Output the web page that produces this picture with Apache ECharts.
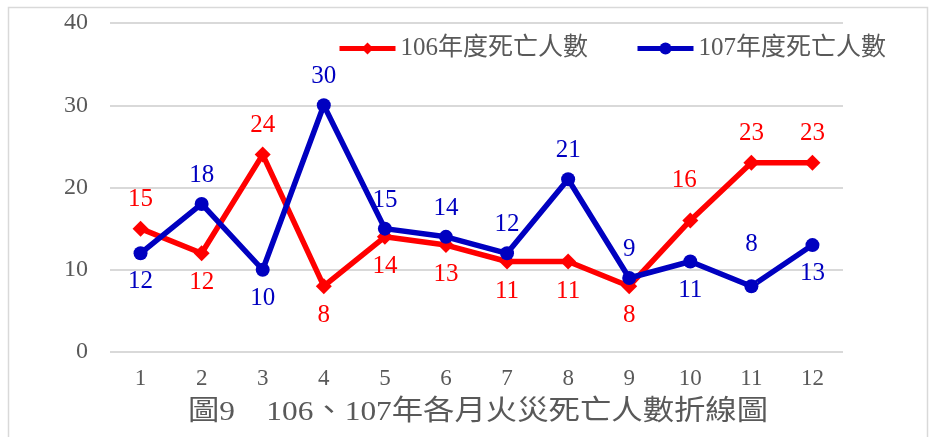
<!DOCTYPE html>
<html>
<head>
<meta charset="utf-8">
<script src="https://cdn.jsdelivr.net/npm/echarts@6/dist/echarts.min.js"></script>
<style>
  html, body { margin: 0; padding: 0; background: #fff; }
  #chart { width: 935px; height: 437px; }
</style>
</head>
<body>
<div id="chart"></div>
<script>
const months = ['1', '2', '3', '4', '5', '6', '7', '8', '9', '10', '11', '12']
const deaths106 = [15, 12, 24, 8, 14, 13, 11, 11, 8, 16, 23, 23]
const deaths107 = [12, 18, 10, 30, 15, 14, 12, 21, 9, 11, 8, 13]
// where each value label sits
const pos106 = ['top', 'bottom', 'top', 'bottom', 'bottom', 'bottom', 'bottom', 'bottom', 'bottom', 'top', 'top', 'top']
const pos107 = ['bottom', 'top', 'bottom', 'top', 'top', 'top', 'top', 'top', 'top', 'bottom', 'top', 'bottom']

const font = '"Liberation Serif", "Noto Sans CJK TC", serif'
const textGray = '#595959'
const leaderGray = '#a6a6a6'

function withLabels(values, positions) {
  return values.map((v, i) => ({ value: v, label: { position: positions[i] } }))
}

const data106 = withLabels(deaths106, pos106)
const data107 = withLabels(deaths107, pos107)
// the two labels that were dragged off with a leader line
data106[9].label.offset = [-6, -10]
data106[9].labelLine = { show: true, lineStyle: { color: leaderGray, width: 1.5 } }
data107[10].label.distance = 22
data107[10].labelLine = { show: true, lineStyle: { color: leaderGray, width: 1.5 } }

const chart = echarts.init(document.getElementById('chart'))
chart.setOption({
  animation: false,
  textStyle: { fontFamily: font },
  graphic: [{
    type: 'rect',
    shape: { x: 8.5, y: 7.5, width: 919, height: 440 },
    style: { fill: 'none', stroke: '#d9d9d9', lineWidth: 1.5 },
    z: -1
  }, {
    type: 'text',
    x: 478,
    y: 413,
    scaleX: 1.12,
    style: {
      text: '圖9　106、107年各月火災死亡人數折線圖',
      font: '28px ' + font,
      fill: textGray,
      align: 'center',
      verticalAlign: 'middle'
    }
  }],
  legend: {
    top: 31,
    left: 332,
    itemGap: 47,
    itemWidth: 56,
    itemHeight: 15,
    textStyle: { fontSize: 25, color: textGray, fontFamily: font },
    lineStyle: { width: 5 },
    data: ['106年度死亡人數', '107年度死亡人數']
  },
  grid: {
    left: 110,
    right: 92,
    top: 23,
    bottom: 85
  },
  xAxis: {
    type: 'category',
    data: months,
    boundaryGap: true,
    axisLine: { show: false },
    axisTick: { show: false },
    axisLabel: { fontSize: 23, color: textGray, margin: 15 },
    splitLine: { show: false }
  },
  yAxis: {
    type: 'value',
    min: 0,
    max: 40,
    interval: 10,
    axisLine: { show: false },
    axisTick: { show: false },
    axisLabel: { fontSize: 24, color: textGray, margin: 22 },
    splitLine: { lineStyle: { color: '#d9d9d9', width: 2 } }
  },
  series: [{
    name: '106年度死亡人數',
    type: 'line',
    data: data106,
    color: '#ff0000',
    symbol: 'diamond',
    symbolSize: 16,
    lineStyle: { width: 5.5, color: '#ff0000' },
    itemStyle: { color: '#ff0000' },
    label: { show: true, fontSize: 25, color: '#ff0000', distance: 9 },
    z: 2
  }, {
    name: '107年度死亡人數',
    type: 'line',
    data: data107,
    color: '#0000c0',
    symbol: 'circle',
    symbolSize: 14,
    lineStyle: { width: 5.5, color: '#0000c0' },
    itemStyle: { color: '#0000c0' },
    label: { show: true, fontSize: 25, color: '#0000c0', distance: 9 },
    z: 3
  }]
})
</script>
</body>
</html>
